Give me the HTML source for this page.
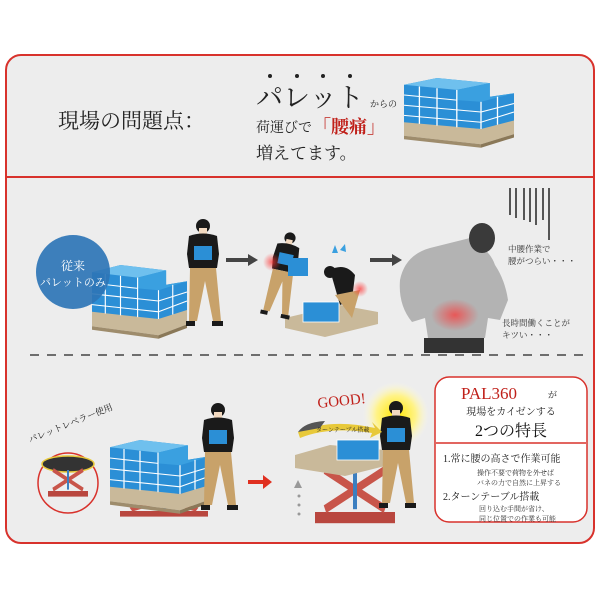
<!DOCTYPE html>
<html><head><meta charset="utf-8"><style>
body{margin:0;width:600px;height:600px;background:#fff;overflow:hidden;font-family:"Liberation Serif","Noto Serif CJK SC",serif}
</style></head><body>
<svg width="600" height="600" viewBox="0 0 600 600" xmlns="http://www.w3.org/2000/svg" font-family="'Liberation Serif','Noto Serif CJK SC',serif">
<defs>
<g id="stack">
 <polygon points="0,50 70,60 100,48 100,66 70,78 0,68" fill="#c9b99a"/>
 <polygon points="0,68 70,78 70,82 0,72" fill="#9e8c6c"/>
 <polygon points="70,78 100,66 100,70 70,82" fill="#8a7858"/>
 <polygon points="0,8 30,0 78,6 78,22 100,18 100,50 70,60 0,52" fill="#2b8fd6"/>
 <polygon points="0,8 30,0 78,6 48,14" fill="#6fc0ee"/>
 <polygon points="48,14 78,6 78,22 100,18 70,28 48,26" fill="#3aa0e0"/>
 <g stroke="#fff" stroke-width="1.2" fill="none">
  <line x1="0" y1="20" x2="48" y2="26"/><line x1="0" y1="32" x2="70" y2="40"/><line x1="0" y1="44" x2="70" y2="52"/>
  <line x1="14" y1="10" x2="14" y2="54"/><line x1="30" y1="12" x2="30" y2="56"/><line x1="48" y1="14" x2="48" y2="58"/><line x1="70" y1="28" x2="70" y2="60"/>
  <line x1="70" y1="40" x2="100" y2="30"/><line x1="70" y1="52" x2="100" y2="40"/><line x1="85" y1="22" x2="85" y2="55"/>
 </g>
</g>
<g id="man">
 <circle cx="0" cy="0" r="7" fill="#1a1a1a"/>
 <rect x="-4" y="2" width="8" height="7" fill="#f2d9c0"/>
 <path d="M-14,10 Q0,5 14,10 L16,28 L14,42 L-14,42 L-16,28 Z" fill="#1a1a1a"/>
 <rect x="-9" y="20" width="18" height="14" fill="#2b8fd6"/>
 <path d="M-13,42 L13,42 L18,95 L10,95 L2,55 L-6,95 L-14,95 Z" fill="#c8a26a"/>
 <rect x="-17" y="95" width="9" height="5" fill="#1a1a1a"/><rect x="9" y="95" width="11" height="5" fill="#1a1a1a"/>
</g>
<g id="lift">
 <rect x="0" y="30" width="80" height="8" fill="#b9473f"/>
 <path d="M10,0 L70,28 M70,0 L10,28" stroke="#c8554a" stroke-width="6"/>
 <rect x="38" y="0" width="4" height="28" fill="#3c7fc0"/>
</g>
<radialGradient id="glow"><stop offset="0" stop-color="#ffe600"/><stop offset="0.6" stop-color="#fff38a"/><stop offset="1" stop-color="#fffbe0" stop-opacity="0"/></radialGradient>
<radialGradient id="pain"><stop offset="0" stop-color="#ff3030" stop-opacity="0.7"/><stop offset="1" stop-color="#ff3030" stop-opacity="0"/></radialGradient>
</defs>
<rect x="6" y="55" width="588" height="488" rx="15" fill="#ededed" stroke="#d8322c" stroke-width="2"/>
<line x1="7" y1="177" x2="593" y2="177" stroke="#d8322c" stroke-width="2"/>
<text x="58" y="128" font-size="21" fill="#222">現場の問題点：</text>
<g fill="#222"><circle cx="270" cy="76" r="2"/><circle cx="297" cy="76" r="2"/><circle cx="323" cy="76" r="2"/><circle cx="350" cy="76" r="2"/></g>
<text x="256" y="107" font-size="27" fill="#222">パレット</text>
<text x="370" y="107" font-size="9" fill="#222">からの</text>
<text x="256" y="132" font-size="14" fill="#222">荷運びで</text>
<text x="313" y="133" font-size="18" fill="#c0201a" font-weight="bold">「腰痛」</text>
<text x="256" y="159" font-size="17" fill="#222">増えてます。</text>
<use href="#stack" transform="translate(404,78) scale(1.1,0.85)"/>
<use href="#stack" transform="translate(92,265) scale(0.95,0.9)"/>
<circle cx="73" cy="272" r="37" fill="#2e75b6" opacity="0.92"/>
<text x="73" y="270" font-size="12" fill="#fff" text-anchor="middle">従来</text>
<text x="73" y="286" font-size="11" fill="#fff" text-anchor="middle">パレットのみ</text>
<use href="#man" transform="translate(203,226)"/>
<path d="M226,258 H248 V254 L258,260 L248,266 V262 H226Z" fill="#444"/>
<path d="M370,258 H392 V254 L402,260 L392,266 V262 H370Z" fill="#444"/>
<polygon points="285,318 340,305 378,312 378,324 325,337 285,328" fill="#c9b99a"/>
<use href="#man" transform="translate(290,238) rotate(12) scale(0.8)"/>
<circle cx="272" cy="262" r="9" fill="url(#pain)"/>
<rect x="288" y="258" width="20" height="18" fill="#2b8fd6"/>
<rect x="303" y="302" width="36" height="20" fill="#2b8fd6" stroke="#fff" stroke-width="0.8"/>
<path d="M330,270 Q345,262 355,275 L352,300 L340,305 Z" fill="#1a1a1a"/>
<circle cx="330" cy="272" r="6" fill="#1a1a1a"/>
<path d="M335,295 L360,290 L352,318 Z" fill="#c8a26a"/>
<circle cx="360" cy="289" r="8" fill="url(#pain)"/>
<path d="M332,253 l3,-8 l3,8z M340,250 l5,-6 l1,8z" fill="#3aa0e0"/>
<!-- back man -->
<path d="M400,280 Q405,255 430,248 L470,238 Q490,250 495,265 Q505,280 508,300 L500,320 L488,318 L485,338 L428,338 L425,318 L412,322 Q398,305 400,280Z" fill="#b3b3b3"/>
<ellipse cx="482" cy="238" rx="13" ry="15" fill="#3a3a3a"/>
<ellipse cx="455" cy="315" rx="24" ry="16" fill="url(#pain)"/>
<rect x="424" y="338" width="60" height="15" fill="#333"/>
<g stroke="#222" stroke-width="1.5"><line x1="510" y1="188" x2="510" y2="215"/><line x1="516" y1="188" x2="516" y2="218"/><line x1="524" y1="188" x2="524" y2="220"/><line x1="530" y1="188" x2="530" y2="222"/><line x1="536" y1="188" x2="536" y2="225"/><line x1="543" y1="188" x2="543" y2="220"/><line x1="549" y1="188" x2="549" y2="240"/></g>
<text x="508" y="252" font-size="8.5" fill="#333">中腰作業で</text>
<text x="508" y="264" font-size="8.5" fill="#333">腰がつらい・・・</text>
<text x="502" y="326" font-size="8.5" fill="#333">長時間働くことが</text>
<text x="502" y="338" font-size="8.5" fill="#333">キツい・・・</text>
<line x1="30" y1="355" x2="585" y2="355" stroke="#444" stroke-width="1.5" stroke-dasharray="9,8"/>
<circle cx="68" cy="483" r="30" fill="none" stroke="#d8322c" stroke-width="1.5"/>
<ellipse cx="68" cy="464" rx="26" ry="8" fill="#333" stroke="#e8c93a" stroke-width="1.5"/>
<use href="#lift" transform="translate(48,470) scale(0.5,0.7)"/>
<text x="30" y="443" font-size="9" fill="#222" transform="rotate(-22 30 443)">パレットレベラー使用</text>
<use href="#lift" transform="translate(120,490) scale(1.1,0.7)"/>
<use href="#stack" transform="translate(110,440) scale(1.0,0.9)"/>
<use href="#man" transform="translate(218,410)"/>
<path d="M248,480 H263 V475 L272,482 L263,489 V484 H248Z" fill="#e03020"/>
<polygon points="298,480 302,488 294,488" fill="#999"/>
<g fill="#999"><circle cx="299" cy="496" r="1.5"/><circle cx="299" cy="505" r="1.5"/><circle cx="299" cy="514" r="1.5"/></g>
<use href="#lift" transform="translate(315,470) scale(1.0,1.4)"/>
<polygon points="295,455 330,445 385,450 385,466 345,476 295,468" fill="#c9b99a"/>
<circle cx="396" cy="415" r="33" fill="url(#glow)"/>
<use href="#man" transform="translate(396,408)"/>
<rect x="337" y="440" width="42" height="20" fill="#2b8fd6" stroke="#fff" stroke-width="0.8"/>
<path d="M298,432 Q330,418 375,428 L372,422 L382,432 L370,438 L372,433 Q330,426 300,438Z" fill="#e8c93a"/>
<path d="M298,432 Q305,422 325,421 L320,428 Z" fill="#555"/>
<text x="316" y="432" font-size="6" fill="#222">ターンテーブル搭載</text>
<text x="318" y="408" font-size="15" fill="#c0201a" transform="rotate(-6 318 408)">GOOD!</text>
<rect x="435" y="377" width="152" height="145" rx="14" fill="#fff" stroke="#d8322c" stroke-width="1.5"/>
<line x1="436" y1="443" x2="586" y2="443" stroke="#d8322c" stroke-width="1.5"/>
<text x="461" y="399" font-size="17" fill="#c0201a">PAL360</text>
<text x="548" y="398" font-size="9" fill="#222">が</text>
<text x="511" y="415" font-size="10" fill="#222" text-anchor="middle">現場をカイゼンする</text>
<text x="511" y="436" font-size="16" fill="#111" text-anchor="middle">2つの特長</text>
<text x="443" y="462" font-size="10" fill="#222">1.常に腰の高さで作業可能</text>
<text x="477" y="475" font-size="7" fill="#333">操作不要で荷物を外せば</text>
<text x="477" y="485" font-size="7" fill="#333">バネの力で自然に上昇する</text>
<text x="443" y="500" font-size="10" fill="#222">2.ターンテーブル搭載</text>
<text x="479" y="511" font-size="7" fill="#333">回り込む手間が省け、</text>
<text x="479" y="521" font-size="7" fill="#333">同じ位置での作業も可能</text>
</svg>
</body></html>
